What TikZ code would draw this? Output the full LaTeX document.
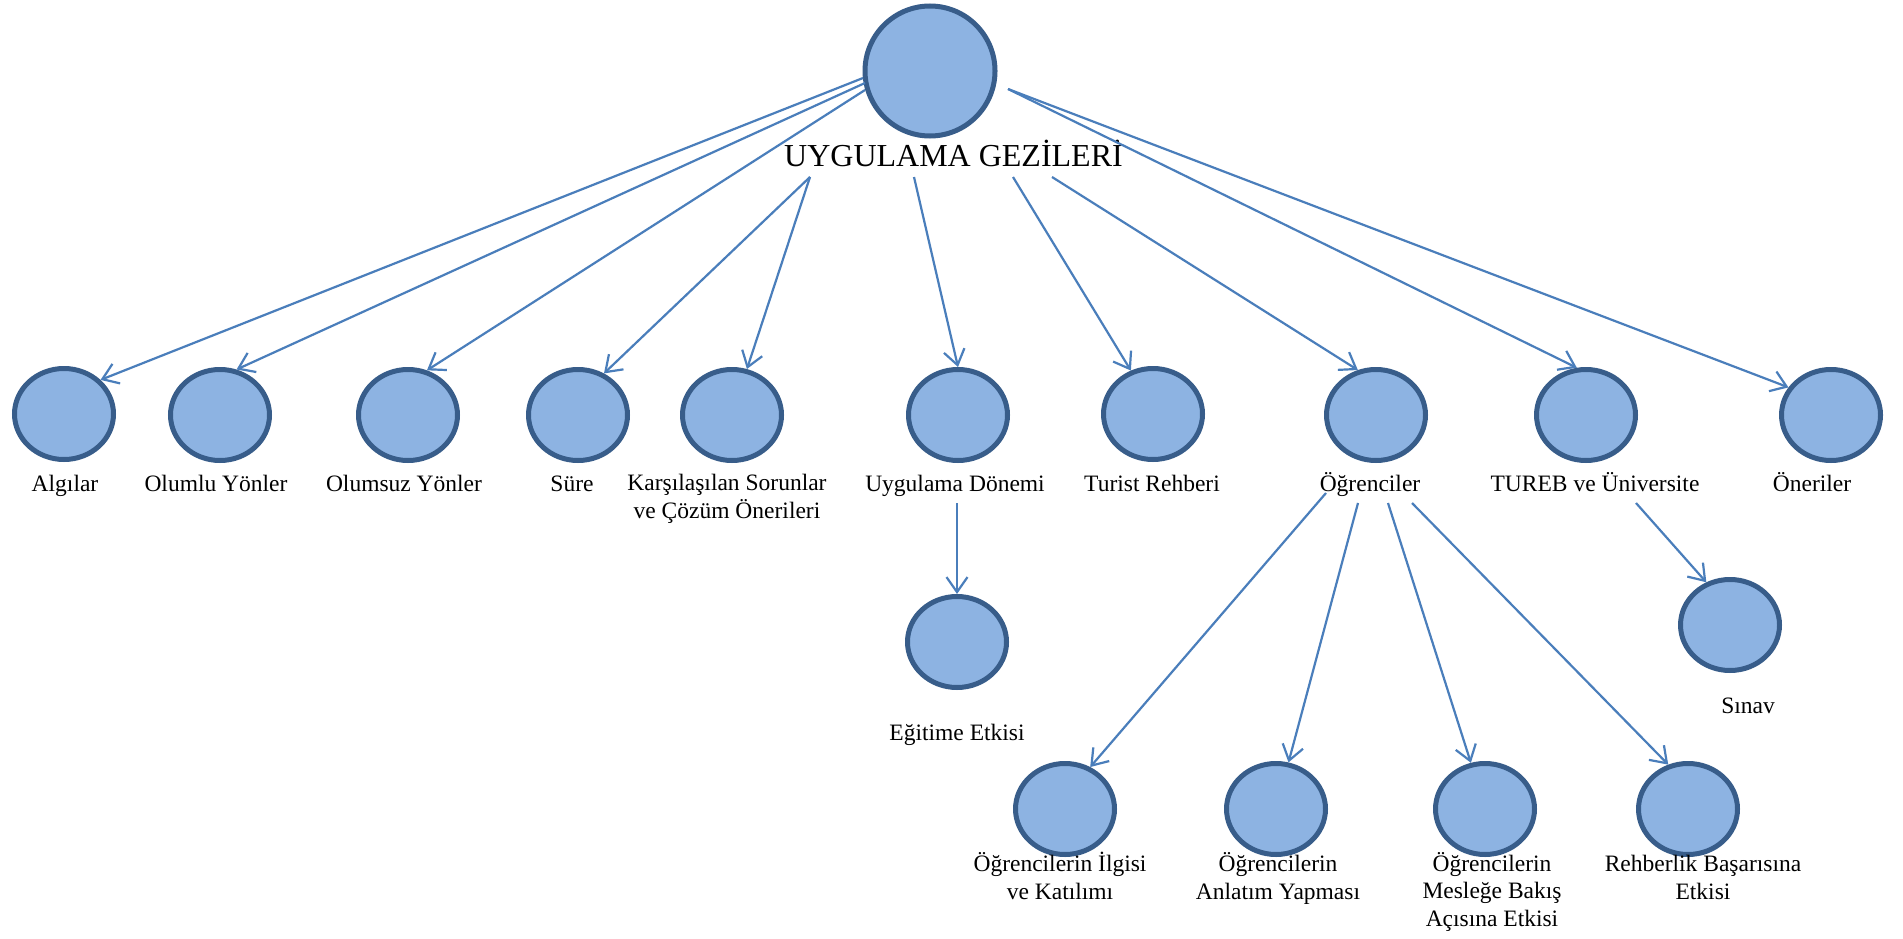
\documentclass[tikz,border=0pt]{standalone}
\usepackage{fontspec}
\setmainfont{Liberation Serif}
\usetikzlibrary{arrows.meta,shapes.geometric}
\definecolor{nodefill}{HTML}{8DB3E2}
\definecolor{nodeline}{HTML}{385D8A}
\definecolor{arrowcol}{HTML}{4A7EBB}
\begin{document}
\begin{tikzpicture}[x=1pt,y=-1pt,
  bub/.style={ellipse, draw=nodeline, fill=nodefill, line width=5pt, minimum width=99pt, minimum height=91pt, inner sep=0pt},
  rootbub/.style={circle, draw=nodeline, fill=nodefill, line width=5pt, minimum size=130pt, inner sep=0pt},
  lab/.style={anchor=base, align=center, inner sep=0pt, font=\fontsize{23.5}{27.3}\selectfont},
  conn/.style={draw=arrowcol, line width=2.2pt, -{Straight Barb[length=15pt,width=21pt]}}
]
\fill[white] (0,0) rectangle (1903,939);

% root
\node[rootbub] (root) at (930,71) {};
\node[anchor=base, inner sep=0pt, font=\fontsize{32}{36}\selectfont] (title) at (953.5,167) {UYGULAMA GEZİLERİ};

% first row
\node[bub] (alg) at (64,414) {};
\node[bub] (olu) at (220,415) {};
\node[bub] (olm) at (408,415) {};
\node[bub] (sure) at (578,415) {};
\node[bub] (kars) at (732,415) {};
\node[bub] (ugd) at (958,415) {};
\node[bub] (tur) at (1153,414) {};
\node[bub] (ogr) at (1376,415) {};
\node[bub] (tureb) at (1586,415) {};
\node[bub] (oner) at (1831,415) {};

% label positions are given at the baseline of the last line
\node[lab] (alg-l) at (65,491) {Algılar};
\node[lab] (olu-l) at (216,491) {Olumlu Yönler};
\node[lab] (olm-l) at (404,491) {Olumsuz Yönler};
\node[lab] (sure-l) at (572,491) {Süre};
\node[lab] (kars-l) at (727,518) {Karşılaşılan Sorunlar\\ve Çözüm Önerileri};
\node[lab] (ugd-l) at (955,491) {Uygulama Dönemi};
\node[lab] (tur-l) at (1152,491) {Turist Rehberi};
\node[lab] (ogr-l) at (1370,491) {Öğrenciler};
\node[lab] (tureb-l) at (1595,491) {TUREB ve Üniversite};
\node[lab] (oner-l) at (1812,491) {Öneriler};

% second level
\node[bub] (egit) at (957,642) {};
\node[bub] (sinav) at (1730,625) {};
\node[lab] (egit-l) at (957,740) {Eğitime Etkisi};
\node[lab] (sinav-l) at (1748,713) {Sınav};

\node[bub] (ilgi) at (1065,809) {};
\node[bub] (anl) at (1276,809) {};
\node[bub] (mes) at (1485,809) {};
\node[bub] (reh) at (1688,809) {};
\node[lab] (ilgi-l) at (1060,899) {Öğrencilerin İlgisi\\ve Katılımı};
\node[lab] (anl-l) at (1278,899) {Öğrencilerin\\Anlatım Yapması};
\node[lab] (mes-l) at (1492,926) {Öğrencilerin\\Mesleğe Bakış\\Açısına Etkisi};
\node[lab] (reh-l) at (1703,899) {Rehberlik Başarısına\\Etkisi};

% connector start points
\coordinate (s-alg) at (863,78);
\coordinate (s-olu) at (865,83);
\coordinate (s-olm) at (865,90);
\coordinate (s-left) at (810,177);
\coordinate (s-ugd) at (914,177);
\coordinate (s-tur) at (1013,177);
\coordinate (s-ogr) at (1052,177);
\coordinate (s-right) at (1008,89);
\coordinate (s-egit) at (957,503);
\coordinate (s-sinav) at (1636,503);
\coordinate (s-ilgi) at (1326,493);
\coordinate (s-anl) at (1358,503);
\coordinate (s-mes) at (1388,503);
\coordinate (s-reh) at (1412,503);

% connectors
\draw[conn] (s-alg) -- (alg.43);
\draw[conn] (s-olu) -- (olu.70);
\draw[conn] (s-olm) -- (olm.67);
\draw[conn] (s-left) -- (sure.58);
\draw[conn] (s-left) -- (kars.72);
\draw[conn] (s-ugd) -- (ugd.90);
\draw[conn] (s-tur) -- (tur.117);
\draw[conn] (s-ogr) -- (ogr.112);
\draw[conn] (s-right) -- (tureb.101);
\draw[conn] (s-right) -- (oner.147);
\draw[conn] (s-egit) -- (egit.90);
\draw[conn] (s-sinav) -- (sinav.119);
\draw[conn] (s-ilgi) -- (ilgi.59);
\draw[conn] (s-anl) -- (anl.75);
\draw[conn] (s-mes) -- (mes.107);
\draw[conn] (s-reh) -- (reh.114);
\end{tikzpicture}
\end{document}
